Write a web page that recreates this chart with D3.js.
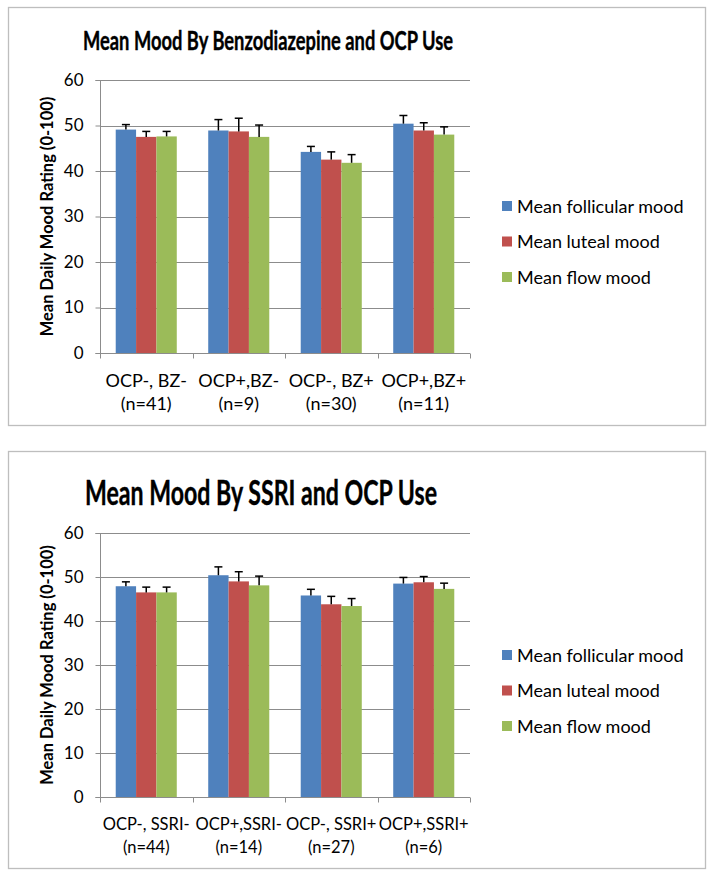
<!DOCTYPE html>
<html>
<head>
<meta charset="utf-8">
<script src="https://cdn.jsdelivr.net/npm/d3@7"></script>
<style>
  body { margin: 0; background: #fff; }
  svg { display: block; }
  text { font-family: Lato, "Open Sans", sans-serif; fill: #000; }
</style>
</head>
<body>
<svg id="chart" width="714" height="878"></svg>
<script>
// ---- Data ----
const seriesNames = ["Mean follicular mood", "Mean luteal mood", "Mean flow mood"];
const seriesColors = ["#4F81BD", "#C0504D", "#9BBB59"];
const yTicks = [0, 10, 20, 30, 40, 50, 60];

// Chart 1: Benzodiazepine
const bzTitle = "Mean Mood By Benzodiazepine and OCP Use";
const bzCategories = [["OCP-, BZ-", "(n=41)"], ["OCP+,BZ-", "(n=9)"], ["OCP-, BZ+", "(n=30)"], ["OCP+,BZ+", "(n=11)"]];
const bzFollicular = [49.1, 48.9, 44.2, 50.4];
const bzLuteal     = [47.5, 48.7, 42.5, 48.9];
const bzFlow       = [47.6, 47.5, 41.8, 48.0];
const bzFollicularErr = [1.1, 2.4, 1.2, 1.8];
const bzLutealErr     = [1.2, 2.9, 1.7, 1.7];
const bzFlowErr       = [1.1, 2.6, 1.8, 1.7];

// Chart 2: SSRI
const ssriTitle = "Mean Mood By SSRI and OCP Use";
const ssriCategories = [["OCP-, SSRI-", "(n=44)"], ["OCP+,SSRI-", "(n=14)"], ["OCP-, SSRI+", "(n=27)"], ["OCP+,SSRI+", "(n=6)"]];
const ssriFollicular = [47.9, 50.4, 45.8, 48.5];
const ssriLuteal     = [46.5, 49.0, 43.8, 48.8];
const ssriFlow       = [46.5, 48.1, 43.4, 47.3];
const ssriFollicularErr = [1.0, 1.9, 1.4, 1.4];
const ssriLutealErr     = [1.2, 2.2, 1.8, 1.3];
const ssriFlowErr       = [1.2, 2.1, 1.7, 1.3];

const yLabel = "Mean Daily Mood Rating (0-100)";

const svg = d3.select("#chart");

function drawChart(cfg) {
  const g = svg.append("g");
  // border box
  g.append("rect")
    .attr("x", cfg.box[0] + 0.5).attr("y", cfg.box[1] + 0.5)
    .attr("width", cfg.box[2] - cfg.box[0]).attr("height", cfg.box[3] - cfg.box[1])
    .attr("fill", "#fff").attr("stroke", "#BEBEBE").attr("stroke-width", 1.3);

  // title (narrowed to match the condensed original face)
  g.append("text")
    .attr("x", cfg.titleX).attr("y", cfg.titleY)
    .attr("text-anchor", "middle")
    .attr("font-weight", "bold")
    .attr("font-size", cfg.titleSize)
    .attr("textLength", cfg.titleWidth)
    .attr("lengthAdjust", "spacingAndGlyphs")
    .attr("stroke", "#000").attr("stroke-width", 0.4)
    .text(cfg.title);

  const x0 = d3.scaleBand().domain(d3.range(cfg.categories.length))
    .range([cfg.plot.left, cfg.plot.right]).paddingInner(0.34).paddingOuter(0.17);
  const x1 = d3.scaleBand().domain(d3.range(seriesNames.length))
    .range([0, x0.bandwidth()]);
  const y = d3.scaleLinear().domain([0, 60]).range([cfg.plot.bottom, cfg.plot.top]);

  // gridlines
  g.append("g").selectAll("line").data(yTicks.filter(t => t > 0)).join("line")
    .attr("x1", cfg.plot.left).attr("x2", cfg.plot.right)
    .attr("y1", d => Math.round(y(d)) + 0.5).attr("y2", d => Math.round(y(d)) + 0.5)
    .attr("stroke", "#8C8C8C").attr("stroke-width", 1);

  // y axis
  const yAxis = d3.axisLeft(y).tickValues(yTicks).tickSize(5).tickPadding(12);
  const ya = g.append("g").attr("transform", `translate(${cfg.plot.left + 0.5},0)`).call(yAxis);
  ya.select(".domain").attr("stroke", "#8C8C8C").attr("d", `M-5,${cfg.plot.top + 0.5}H0V${cfg.plot.bottom + 0.5}H-5`);
  ya.selectAll(".tick line").attr("stroke", "#8C8C8C");
  ya.selectAll(".tick text").attr("font-size", 17).attr("font-family", "Lato, sans-serif").attr("fill", "#000");

  // bars
  const values = cfg.values, errs = cfg.errs;
  const groups = g.append("g").selectAll("g").data(cfg.categories).join("g")
    .attr("transform", (d, i) => `translate(${x0(i)},0)`);
  seriesNames.forEach((s, si) => {
    groups.append("rect")
      .attr("x", x1(si)).attr("width", x1.bandwidth())
      .attr("y", (d, i) => y(values[si][i]))
      .attr("height", (d, i) => y(0) - y(values[si][i]))
      .attr("fill", seriesColors[si]);
  });
  // error bars
  seriesNames.forEach((s, si) => {
    const cx = x1(si) + x1.bandwidth() / 2;
    groups.append("line")
      .attr("x1", cx).attr("x2", cx)
      .attr("y1", (d, i) => y(values[si][i]))
      .attr("y2", (d, i) => y(values[si][i] + errs[si][i]))
      .attr("stroke", "#000").attr("stroke-width", 1.5);
    groups.append("line")
      .attr("x1", cx - 4).attr("x2", cx + 4)
      .attr("y1", (d, i) => y(values[si][i] + errs[si][i]))
      .attr("y2", (d, i) => y(values[si][i] + errs[si][i]))
      .attr("stroke", "#000").attr("stroke-width", 1.5);
  });

  // x axis
  const xa = g.append("g").attr("transform", `translate(0,${cfg.plot.bottom + 0.5})`);
  xa.append("line").attr("x1", cfg.plot.left).attr("x2", cfg.plot.right)
    .attr("stroke", "#8C8C8C");
  const bounds = d3.range(cfg.categories.length + 1).map(i =>
    i < cfg.categories.length ? x0(i) - x0.step() * 0.17 : cfg.plot.right);
  xa.selectAll("line.tk").data(bounds).join("line").attr("class", "tk")
    .attr("x1", d => Math.round(d) + 0.5).attr("x2", d => Math.round(d) + 0.5)
    .attr("y1", 0).attr("y2", 5).attr("stroke", "#8C8C8C");
  const lab = xa.selectAll("text.cat").data(cfg.categories).join("text").attr("class", "cat")
    .attr("text-anchor", "middle").attr("font-size", cfg.catSize)
    .attr("x", (d, i) => x0(i) + x0.bandwidth() / 2);
  lab.append("tspan").attr("dy", cfg.catDy1).text(d => d[0])
    .attr("x", (d, i) => x0(i) + x0.bandwidth() / 2);
  lab.append("tspan").attr("dy", 23.5).text(d => d[1])
    .attr("x", (d, i) => x0(i) + x0.bandwidth() / 2);

  // y label
  g.append("text")
    .attr("transform", `translate(${cfg.yLabelX},${(cfg.plot.top + cfg.plot.bottom) / 2}) rotate(-90)`)
    .attr("text-anchor", "middle").attr("font-weight", "bold").attr("font-size", 16.5)
    .text(yLabel);

  // legend
  const lg = g.append("g").selectAll("g").data(seriesNames).join("g")
    .attr("transform", (d, i) => `translate(${cfg.legend.x},${cfg.legend.y + i * 35.5})`);
  lg.append("rect").attr("x", 0).attr("y", -5).attr("width", 10).attr("height", 10)
    .attr("fill", (d, i) => seriesColors[i]);
  lg.append("text").attr("x", 15).attr("y", 6.5).attr("font-size", 18).text(d => d);
}

drawChart({
  box: [8, 7, 705, 425],
  title: bzTitle, titleX: 268, titleY: 50, titleSize: 27, titleWidth: 370,
  categories: bzCategories, catSize: 18,
  values: [bzFollicular, bzLuteal, bzFlow],
  errs: [bzFollicularErr, bzLutealErr, bzFlowErr],
  plot: { left: 100, right: 470, top: 80, bottom: 353 },
  catDy1: 33,
  yLabelX: 53,
  legend: { x: 502, y: 206 }
});

drawChart({
  box: [8, 451, 705, 868],
  title: ssriTitle, titleX: 261, titleY: 505, titleSize: 35, titleWidth: 352,
  categories: ssriCategories, catSize: 16.5,
  values: [ssriFollicular, ssriLuteal, ssriFlow],
  errs: [ssriFollicularErr, ssriLutealErr, ssriFlowErr],
  plot: { left: 100, right: 470, top: 533, bottom: 797 },
  catDy1: 32,
  yLabelX: 53,
  legend: { x: 502, y: 655 }
});
</script>
</body>
</html>
